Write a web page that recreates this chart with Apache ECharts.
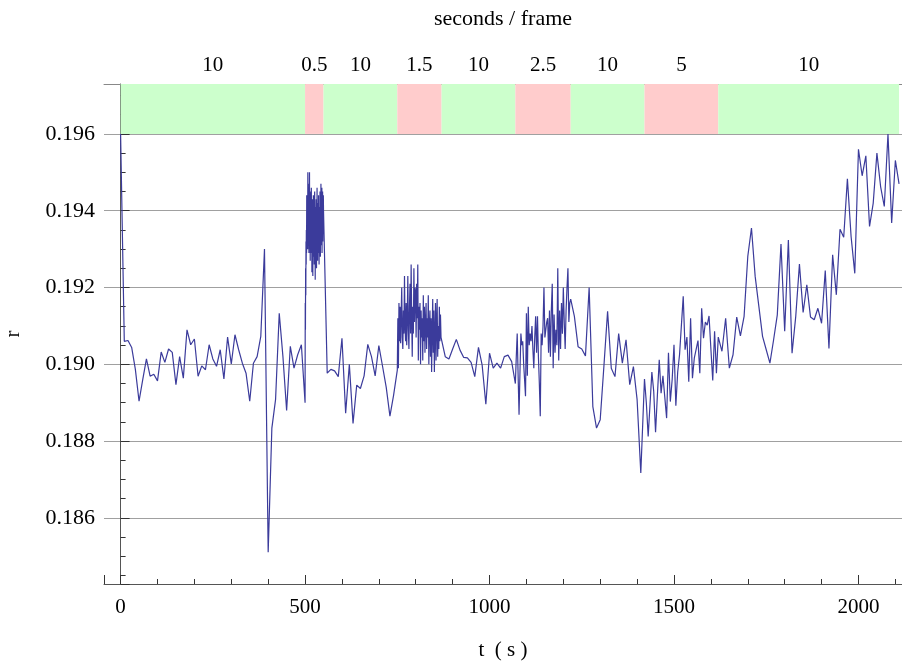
<!DOCTYPE html>
<html>
<head>
<meta charset="utf-8">
<title>r vs t</title>
<script src="https://cdn.jsdelivr.net/npm/echarts@6/dist/echarts.min.js"></script>
<style>
  html, body { margin: 0; padding: 0; background: #ffffff; }
  #chart { width: 902px; height: 661px; }
</style>
</head>
<body>
<div id="chart"></div>
<script>
// Acquisition segments: [start (s), end (s), seconds per frame]
const frameSegments = [
  [0, 500, 10],
  [500, 550, 0.5],
  [550, 750, 10],
  [750, 870, 1.5],
  [870, 1070, 10],
  [1070, 1220, 2.5],
  [1220, 1420, 10],
  [1420, 1620, 5],
  [1620, 2110, 10]
];

// r measured in each segment, one value per frame, starting at the segment start
const rSeg0 = [
  0.1960, 0.19060, 0.19062, 0.19044, 0.18987, 0.18904, 0.18960, 0.19014, 0.18969, 0.18974,
  0.18957, 0.19032, 0.19005, 0.19040, 0.19031, 0.18947, 0.19020, 0.18964, 0.19090, 0.19051,
  0.19066, 0.18969, 0.18996, 0.18986, 0.19051, 0.19014, 0.18995, 0.19038, 0.18962, 0.19071,
  0.19001, 0.19077, 0.19038, 0.19003, 0.18977, 0.18904, 0.19003, 0.19020, 0.19073, 0.19300,
  0.18511, 0.18834, 0.18908, 0.19133, 0.19020, 0.18880, 0.19047, 0.18990, 0.19025, 0.19051
];
const rSeg1 = [
  0.1890, 0.1916, 0.1909, 0.1925, 0.1918, 0.1932, 0.1926, 0.1935, 0.1929, 0.1944,
  0.1937, 0.1941, 0.1932, 0.1938, 0.1930, 0.1950, 0.1940, 0.1944, 0.1931, 0.1942,
  0.1936, 0.1929, 0.1947, 0.1939, 0.1950, 0.1934, 0.1943, 0.1936, 0.1927, 0.1940,
  0.1933, 0.1945, 0.1929, 0.1938, 0.1946, 0.1932, 0.1941, 0.1924, 0.1937, 0.1930,
  0.1943, 0.1935, 0.1923, 0.1939, 0.1931, 0.1944, 0.1936, 0.1928, 0.1941, 0.1933,
  0.1926, 0.1938, 0.1945, 0.1930, 0.1936, 0.1922, 0.1934, 0.1941, 0.1929, 0.1937,
  0.1943, 0.1931, 0.1925, 0.1939, 0.1934, 0.1946, 0.1930, 0.1938, 0.1927, 0.1942,
  0.1935, 0.1940, 0.1929, 0.1944, 0.1932, 0.1937, 0.1926, 0.1941, 0.1934, 0.1939,
  0.1930, 0.1945, 0.1936, 0.1928, 0.1942, 0.1933, 0.1947, 0.1938, 0.1931, 0.1944,
  0.1936, 0.1946, 0.1929, 0.1940, 0.1935, 0.1945, 0.1932, 0.1942, 0.1937, 0.1944
];
const rSeg2 = [
  0.1940, 0.18977, 0.18987, 0.18983, 0.18968, 0.19068, 0.18873, 0.19000, 0.18846, 0.18946,
  0.18937, 0.18970, 0.19052, 0.19020, 0.18970, 0.19049, 0.18995, 0.18940, 0.18865, 0.18920
];
const rSeg3 = [
  0.18985, 0.1912, 0.1899, 0.1916, 0.1906, 0.1915, 0.19055, 0.1913, 0.1920, 0.1907,
  0.1904, 0.1914, 0.1908, 0.1923, 0.1910, 0.1906, 0.1916, 0.1905, 0.1912, 0.1923,
  0.1909, 0.1904, 0.1915, 0.1921, 0.1908, 0.1926, 0.1912, 0.1902, 0.1915, 0.1908,
  0.1925, 0.1911, 0.1920, 0.1919, 0.1907, 0.1921, 0.1912, 0.1926, 0.1901, 0.1915,
  0.1909, 0.1916, 0.1900, 0.1914, 0.1907, 0.1912, 0.1901, 0.1918, 0.1906, 0.1915,
  0.1903, 0.1911, 0.1916, 0.1904, 0.1912, 0.1907, 0.1918, 0.1900, 0.1910, 0.1914,
  0.1902, 0.1912, 0.1898, 0.1909, 0.1917, 0.1903, 0.1914, 0.1898, 0.1908, 0.1916,
  0.1901, 0.1911, 0.1917, 0.1902, 0.1910, 0.1904, 0.1915, 0.1906, 0.1913, 0.1907
];
const rSeg4 = [
  0.1907, 0.1902, 0.19014, 0.1904, 0.19065, 0.19037, 0.19018, 0.19017, 0.19005, 0.18968,
  0.19044, 0.18998, 0.18896, 0.19029, 0.18990, 0.19003, 0.18990, 0.19020, 0.19024, 0.19007
];
const rSeg5 = [
  0.1895, 0.1902, 0.1908, 0.1897, 0.18869, 0.1898, 0.1908, 0.1905, 0.1906, 0.1900,
  0.1896, 0.18917, 0.19133, 0.1897, 0.1915, 0.1905, 0.1908, 0.1906, 0.1910, 0.1904,
  0.1899, 0.1907, 0.19125, 0.1903, 0.19125, 0.1902, 0.1895, 0.18865, 0.1908, 0.1905,
  0.1910, 0.1920, 0.1907, 0.1909, 0.1911, 0.1912, 0.1903, 0.1914, 0.1902, 0.1914,
  0.1921, 0.1899, 0.1913, 0.1903, 0.1909, 0.1905, 0.1925, 0.1901, 0.1914, 0.1904,
  0.1916, 0.1908, 0.1920, 0.1911, 0.1904, 0.1914, 0.1920, 0.1925, 0.1911, 0.1916
];
const rSeg6 = [
  0.1917, 0.19125, 0.19046, 0.1904, 0.19022, 0.1920, 0.1889, 0.18834, 0.18856, 0.18995,
  0.19138, 0.1899, 0.18968, 0.1908, 0.19003, 0.19064, 0.18947, 0.18994, 0.18908, 0.18717
];
const rSeg7 = [
  0.18962, 0.1890, 0.18812, 0.18808, 0.1898, 0.1893, 0.18823, 0.1892, 0.19012, 0.18925,
  0.1897, 0.18973, 0.1886, 0.1903, 0.18903, 0.1896, 0.19051, 0.18892, 0.1898, 0.19025,
  0.1902, 0.19177, 0.19038, 0.19071, 0.18955, 0.1912, 0.18964, 0.19016, 0.19012, 0.19062,
  0.18977, 0.19146, 0.19068, 0.1911, 0.19102, 0.19126, 0.1904, 0.18958, 0.19086, 0.18977
];
const rSeg8 = [
  0.19071, 0.19034, 0.19120, 0.18990, 0.19025, 0.19123, 0.19074, 0.19125, 0.19281, 0.19355,
  0.19229, 0.19151, 0.19073, 0.19038, 0.19003, 0.19064, 0.19129, 0.19313, 0.19086, 0.19324,
  0.19029, 0.19125, 0.19261, 0.19135, 0.19207, 0.19123, 0.19116, 0.19146, 0.19107, 0.19244,
  0.19041, 0.19285, 0.19181, 0.19352, 0.19331, 0.19483, 0.19333, 0.19237, 0.19560, 0.19491,
  0.19543, 0.19359, 0.19420, 0.19550, 0.19463, 0.19411, 0.19600, 0.19368, 0.19531, 0.19470
];
const segmentValues = [rSeg0, rSeg1, rSeg2, rSeg3, rSeg4, rSeg5, rSeg6, rSeg7, rSeg8];

// axis ranges
const tRange = [-45, 2118];
const rRange = [0.18428, 0.1973];
const bandBottom = 0.196;

// each frame sits at start + k * (seconds per frame)
const seriesData = [];
frameSegments.forEach(function (seg, i) {
  const start = seg[0], step = seg[2];
  segmentValues[i].forEach(function (v, k) {
    seriesData.push([start + k * step, v]);
  });
});

// top-axis ticks: one per segment, at its middle, labelled with its frame period
const segMids = frameSegments.map(function (s) { return (s[0] + s[1]) / 2; });
const segLabels = frameSegments.map(function (s) { return String(s[2]); });

const GREEN = '#ccffcc';
const PINK = '#ffcccc';
const bands = frameSegments.map(function (s) {
  return [
    { xAxis: s[0], yAxis: bandBottom, itemStyle: { color: s[2] === 10 ? GREEN : PINK, opacity: 1 } },
    { xAxis: s[1], yAxis: rRange[1] }
  ];
});

const FONT = 'Liberation Serif';
const tickColor = '#333';

const chart = echarts.init(document.getElementById('chart'), null, { renderer: 'canvas' });
chart.setOption({
  animation: false,
  backgroundColor: '#ffffff',
  textStyle: { fontFamily: FONT, color: '#000' },
  grid: { left: 104, right: 0, top: 84, bottom: 77, containLabel: false, outerBoundsMode: 'none' },
  xAxis: [
    {
      type: 'value',
      position: 'bottom',
      min: tRange[0],
      max: tRange[1],
      splitNumber: 4,
      name: 't  ( s )',
      nameLocation: 'middle',
      nameGap: 56,
      nameTextStyle: { fontFamily: FONT, fontSize: 21, color: '#000' },
      axisLine: { show: true, onZero: false, lineStyle: { color: '#555', width: 1 } },
      axisTick: { show: true, inside: true, length: 9, lineStyle: { color: tickColor, width: 1 } },
      minorTick: { show: true, splitNumber: 5, length: 5, lineStyle: { color: tickColor, width: 1 } },
      axisLabel: {
        showMinLabel: false, showMaxLabel: false, margin: 13,
        fontFamily: FONT, fontSize: 21, color: '#000',
        formatter: function (v) { return String(v); }
      },
      splitLine: { show: false }
    },
    {
      type: 'value',
      position: 'top',
      min: tRange[0],
      max: tRange[1],
      name: 'seconds / frame',
      nameLocation: 'middle',
      nameGap: 54,
      nameTextStyle: { fontFamily: FONT, fontSize: 22, color: '#000' },
      axisLine: { show: true, onZero: false, lineStyle: { color: '#888', width: 1 } },
      axisTick: { show: true, inside: true, length: 9, customValues: segMids, lineStyle: { color: tickColor, width: 1 } },
      axisLabel: {
        customValues: segMids,
        margin: 8,
        fontFamily: FONT, fontSize: 21, color: '#000',
        formatter: function (v) {
          for (let i = 0; i < segMids.length; i++) {
            if (Math.abs(segMids[i] - v) < 1e-6) return segLabels[i];
          }
          return '';
        }
      },
      splitLine: { show: false }
    }
  ],
  yAxis: {
    type: 'value',
    min: rRange[0],
    max: rRange[1],
    splitNumber: 7,
    name: 'r',
    nameLocation: 'middle',
    nameGap: 80,
    nameTextStyle: { fontFamily: FONT, fontSize: 21, color: '#000' },
    axisLine: { show: true, lineStyle: { color: '#555', width: 1 } },
    axisTick: { show: true, inside: true, length: 9, lineStyle: { color: tickColor, width: 1 } },
    minorTick: { show: true, splitNumber: 4, length: 5, lineStyle: { color: tickColor, width: 1 } },
    axisLabel: {
      showMinLabel: false, showMaxLabel: false, margin: 9,
      fontFamily: FONT, fontSize: 22, color: '#000',
      formatter: function (v) { return v.toFixed(3); }
    },
    splitLine: { show: true, lineStyle: { color: '#a0a0a0', width: 1 } }
  },
  series: [
    {
      type: 'line',
      xAxisIndex: 0,
      data: seriesData,
      showSymbol: false,
      symbol: 'none',
      lineStyle: { color: '#3b3b9b', width: 1.2 },
      markArea: { silent: true, data: bands }
    }
  ]
});
</script>
</body>
</html>
